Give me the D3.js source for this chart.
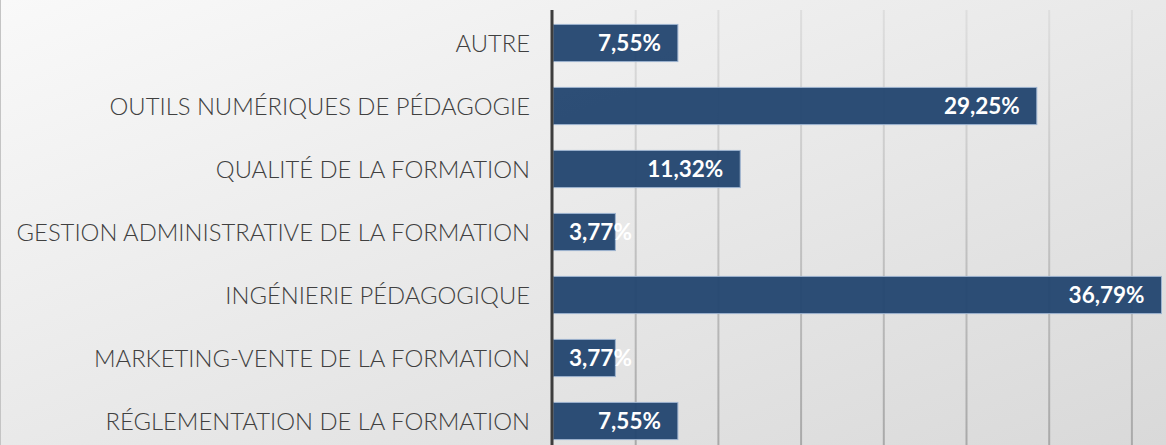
<!DOCTYPE html>
<html lang="fr">
    <script src="https://d3js.org/d3.v7.min.js"></script>
    <head>
        <title>Thèmes de formation</title>
    </head>
    <style>
        *{
            margin: 0px;
            padding: 0px;
        }
        body{
            width: 1166px;
            height: 445px;
            overflow: hidden;
        }
        svg{
            display: block;
        }
    </style>
    <body>
        <div class="chart"></div>
        <script>
            // données (de haut en bas)
            var categories=[
                "AUTRE",
                "OUTILS NUMÉRIQUES DE PÉDAGOGIE",
                "QUALITÉ DE LA FORMATION",
                "GESTION ADMINISTRATIVE DE LA FORMATION",
                "INGÉNIERIE PÉDAGOGIQUE",
                "MARKETING-VENTE DE LA FORMATION",
                "RÉGLEMENTATION DE LA FORMATION"
            ];
            var valeurs=[7.55,29.25,11.32,3.77,36.79,3.77,7.55];
            var graduations=[5,10,15,20,25,30,35,40];

            var width=1166;
            var height=445;
            var x0=553;

            var fr=d3.formatLocale({decimal:",",thousands:" ",grouping:[3],currency:["","€"]});
            var fmt=fr.format(".2f");

            const svg=d3
            .select('.chart')
            .append('svg')
            .attr('width',width)
            .attr('height',height);

            //fond
            var defs=svg.append('defs');
            var bg=defs.append('linearGradient')
            .attr('id','bg')
            .attr('x1','0').attr('y1','0').attr('x2','1').attr('y2','1');
            bg.append('stop').attr('offset','0%').attr('stop-color','#f9f9f9');
            bg.append('stop').attr('offset','100%').attr('stop-color','#d9d9d9');

            var gl=defs.append('linearGradient')
            .attr('id','grille')
            .attr('gradientUnits','userSpaceOnUse')
            .attr('x1',0).attr('y1',10).attr('x2',0).attr('y2',445);
            gl.append('stop').attr('offset','0%').attr('stop-color','#dedede');
            gl.append('stop').attr('offset','100%').attr('stop-color','#a9a9a9');

            svg.append('rect')
            .attr('width',width)
            .attr('height',height)
            .attr('fill','url(#bg)');

            svg.append('line')
            .attr('x1',0.5).attr('x2',0.5)
            .attr('y1',0).attr('y2',height)
            .attr('stroke','#c4c4c4');

            //échelles
            var xScale=d3
            .scaleLinear()
            .domain([0,40])
            .range([x0,x0+661.6]);

            var yScale=d3
            .scaleBand()
            .domain(categories)
            .range([11.5,452.5])
            .paddingInner(0.41)
            .paddingOuter(0.205);

            //grille
            svg.append('g')
            .selectAll('line')
            .data(graduations)
            .enter()
            .append('line')
            .attr('x1',(d)=>xScale(d))
            .attr('x2',(d)=>xScale(d))
            .attr('y1',10)
            .attr('y2',height)
            .attr('stroke','url(#grille)')
            .attr('stroke-width',2);

            //barres
            svg.append('g')
            .selectAll('rect')
            .data(valeurs)
            .enter()
            .append('rect')
            .attr('x',x0)
            .attr('y',(d,i)=>yScale(categories[i]))
            .attr('width',(d)=>xScale(d)-x0)
            .attr('height',yScale.bandwidth())
            .attr('fill','#22456f')
            .attr('fill-opacity',0.95)
            .attr('stroke','#9db3cf')
            .attr('stroke-width',1);

            //axe vertical
            var yAxis=d3.axisLeft(yScale).tickSize(0).tickPadding(23);
            var ga=svg.append('g')
            .attr('transform','translate('+x0+',0)')
            .call(yAxis);
            ga.select('.domain').remove();
            ga.selectAll('text')
            .attr('fill','#404040')
            .style('font-family','Lato, sans-serif')
            .style('font-weight','300')
            .style('font-size','23.8px')
            .attr('dy','0.36em');

            svg.append('line')
            .attr('x1',x0-1).attr('x2',x0-1)
            .attr('y1',10).attr('y2',height)
            .attr('stroke','#3d3d3d')
            .attr('stroke-width',3);

            //étiquettes
            var lab=svg.append('g')
            .selectAll('text')
            .data(valeurs)
            .enter()
            .append('text')
            .attr('y',(d,i)=>yScale(categories[i])+yScale.bandwidth()/2)
            .attr('dy','0.36em')
            .attr('text-anchor','end')
            .attr('fill','#ffffff')
            .style('font-family','Lato, sans-serif')
            .style('font-weight','700')
            .style('font-size','22.5px')
            .text((d)=>fmt(d)+'%');

            lab.attr('x',function(d){
                var w=this.getComputedTextLength();
                return Math.max(xScale(d)-17,x0+16+w);
            });
        </script>
    </body>
</html>
